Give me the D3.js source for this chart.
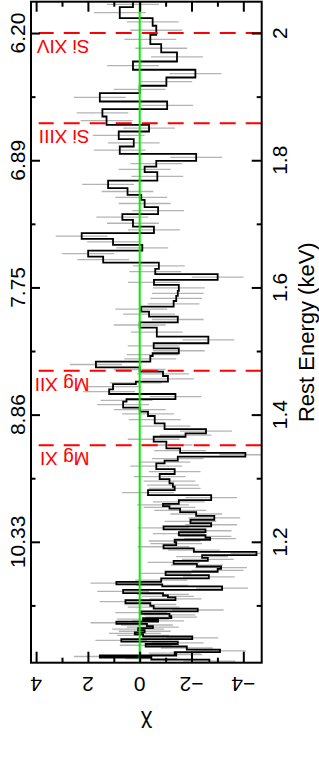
<!DOCTYPE html>
<html><head><meta charset="utf-8">
<script src="https://cdn.jsdelivr.net/npm/d3@7"></script>
<style>html,body{margin:0;padding:0;background:#fff;} svg{display:block;}</style>
</head><body><svg id="c" width="319" height="763"></svg>
<script>
// Bin edges (keV, high to low) and residuals (chi) per bin
const binEdges = [2.0493, 2.0409, 2.0236, 2.0115, 1.9973, 1.9827, 1.9695, 1.9553, 1.9423, 1.9301, 1.9171, 1.9056, 1.8924, 1.8804, 1.8688, 1.8557, 1.8452, 1.8332, 1.8216, 1.8101, 1.7991, 1.7901, 1.7813, 1.7681, 1.7561, 1.7456, 1.7377, 1.7262, 1.7152, 1.7062, 1.6957, 1.6853, 1.6763, 1.6668, 1.6579, 1.6485, 1.6390, 1.6291, 1.6208, 1.6118, 1.6039, 1.5945, 1.5866, 1.5787, 1.5698, 1.5619, 1.5540, 1.5452, 1.5367, 1.5226, 1.5122, 1.5043, 1.4965, 1.4922, 1.4832, 1.4744, 1.4675, 1.4607, 1.4518, 1.4481, 1.4398, 1.4324, 1.4245, 1.4203, 1.4109, 1.4046, 1.3978, 1.3863, 1.3773, 1.3706, 1.3652, 1.3574, 1.3470, 1.3400, 1.3338, 1.3275, 1.3234, 1.3144, 1.3066, 1.2987, 1.2919, 1.2866, 1.2814, 1.2735, 1.2656,
  1.2598, 1.2562, 1.2522, 1.2467, 1.2407, 1.2347, 1.2294, 1.2242, 1.2195, 1.2153, 1.2103, 1.2066, 1.2032, 1.1993, 1.1948, 1.1896, 1.1843, 1.1791, 1.1746, 1.1699, 1.1652, 1.1612, 1.1573, 1.1529, 1.1476, 1.1424, 1.1371, 1.1332, 1.1298, 1.1245, 1.1193, 1.1156, 1.1125, 1.1083, 1.1035, 1.0994, 1.0949, 1.0907, 1.0868, 1.0831, 1.0800, 1.0771, 1.0744, 1.0710, 1.0674, 1.0642, 1.0611, 1.0576, 1.0545, 1.0511, 1.0469, 1.0430, 1.0393, 1.0354, 1.0306, 1.0264, 1.0238, 1.0212, 1.0181, 1.0146, 1.0099];
const chiValues = [0.26, 0.77, -0.50, -0.64, -0.41, -0.83, -1.44, 0.26, -2.15, -1.03,
  0.00, 1.54, -1.06, 1.44, 1.28, -0.36, 0.81, 0.23, 0.77, -2.18,
  -0.64, -0.19, -0.68, 1.22, 0.47, -0.06, -0.19, -0.71, 0.67, 0.26,
  -0.55, 2.24, 1.03, -0.10, 1.99, 1.41, -0.74, -0.60, -3.01, -0.55,
  -1.51, -1.47, -1.41, -1.31, -0.06, -0.36, -1.47, 0.00, -0.66, -2.65,
  -0.54, -1.51, -0.50, -0.41, 1.69, 0.00, -0.90, -1.09, 0.15, 1.03,
  1.18, -1.38, 0.51, 0.64, 0.00, -0.32, -0.58, -0.96, -2.56, -1.77,
  -0.54, -1.03, -1.56, -4.08, -1.47, -0.96, -0.64, -1.35, -0.77, -1.15,
  -1.28, -1.35, -0.32, -2.76,
  -1.51, -0.90, -1.15, -1.56, -2.18, -2.88, -1.96, -2.76, -0.92, -2.54,
  -1.51, -2.54, -2.72, -1.35, -1.41, -0.92, -2.09, -4.51, -2.41, -2.63,
  -1.31, -2.21, -3.14, -3.01, -1.00, -2.67, -0.83, 0.90, -0.87, -3.18,
  0.64, -0.90, -1.09, -1.38, 0.55, -0.41, -0.54, -2.24, -0.06, -1.15,
  -1.22, -0.13, -0.71, 0.90, -0.28, -0.51, 0.06, -0.19, 0.19, -0.13,
  -2.03, 0.71, -1.47, -0.23, -1.82, -3.10, -1.35, -1.41, 1.54, -0.45,
  -2.69];
const chiError = 1.0;

const energyTicksMajor = [2.0, 1.8, 1.6, 1.4, 1.2];
const energyTicksMinor = [1.9, 1.7, 1.5, 1.3, 1.1];
const energyTickLabels = ["2", "1.8", "1.6", "1.4", "1.2"];
const wavelengthTickLabels = ["6.20", "6.89", "7.75", "8.86", "10.33"];
const chiTicksMajor = [4, 2, 0, -2, -4];
const chiTicksMinor = [3, 1, -1, -3];
const chiTickLabels = ["4", "2", "0", "\u22122", "\u22124"];

const lineNames = ["Si XIV", "Si XIII", "Mg XII", "Mg XI"];
const lineEnergies = [2.000, 1.858, 1.469, 1.352];
const lineChiSpan = [-4.71, 3.9];

const energyDomain = [1.0099, 2.0493];
const chiDomain = [4.197, -4.71];

const font = "'Liberation Sans', Arial, Helvetica, sans-serif";
const L = 31, R = 261.7, T = 1.7, B = 662.7;

const svg = d3.select("#c");
const y = d3.scaleLinear().domain(energyDomain).range([B, T]);
const x = d3.scaleLinear().domain(chiDomain).range([L, R]);

svg.append("defs").append("clipPath").attr("id", "clip")
  .append("rect").attr("x", L).attr("y", T).attr("width", R - L).attr("height", B - T);
const plot = svg.append("g").attr("clip-path", "url(#clip)");

const bins = chiValues.map((c, i) => ({hi: binEdges[i], lo: binEdges[i + 1], chi: c}));

// error bars
plot.append("g").selectAll("line").data(bins).join("line")
  .attr("x1", d => x(d.chi - chiError)).attr("x2", d => x(d.chi + chiError))
  .attr("y1", d => y((d.hi + d.lo) / 2)).attr("y2", d => y((d.hi + d.lo) / 2))
  .attr("stroke", "#b4b4b4").attr("stroke-width", 1.3);

// step line
const pts = [];
bins.forEach(d => { pts.push([d.chi, d.hi]); pts.push([d.chi, d.lo]); });
plot.append("path").datum(pts)
  .attr("d", d3.line().x(p => x(p[0])).y(p => y(p[1])))
  .attr("fill", "none").attr("stroke", "#000").attr("stroke-width", 1.8)
  .attr("stroke-linejoin", "miter");

// zero line
plot.append("line").attr("x1", x(0)).attr("x2", x(0)).attr("y1", T).attr("y2", B)
  .attr("stroke", "#00ee00").attr("stroke-width", 2);

// line markers
plot.append("g").selectAll("line").data(lineEnergies).join("line")
  .attr("x1", x(lineChiSpan[0])).attr("x2", x(lineChiSpan[1]))
  .attr("y1", d => y(d)).attr("y2", d => y(d))
  .attr("stroke", "#ff0000").attr("stroke-width", 2).attr("stroke-dasharray", "16,10");

svg.append("g").selectAll("text").data(lineNames).join("text")
  .attr("transform", (d, i) => `translate(89.5,${y(lineEnergies[i]) + 7}) rotate(180)`)
  .attr("text-anchor", "start").attr("font-family", font).attr("font-size", 19)
  .attr("fill", "#ff0000").text(d => d);

// frame
svg.append("rect").attr("x", L).attr("y", T).attr("width", R - L).attr("height", B - T)
  .attr("fill", "none").attr("stroke", "#000").attr("stroke-width", 2);

function styleAxis(g) {
  g.select(".domain").remove();
  g.selectAll(".tick line").attr("stroke", "#000").attr("stroke-width", 2);
  g.selectAll(".tick text").remove();
}
// left (wavelength) ticks
svg.append("g").attr("transform", `translate(${L},0)`)
  .call(d3.axisRight(y).tickValues(energyTicksMajor).tickSize(9)).call(styleAxis);
svg.append("g").attr("transform", `translate(${L},0)`)
  .call(d3.axisRight(y).tickValues(energyTicksMinor).tickSize(4.5)).call(styleAxis);
// right (energy) ticks
svg.append("g").attr("transform", `translate(${R},0)`)
  .call(d3.axisLeft(y).tickValues(energyTicksMajor).tickSize(10)).call(styleAxis);
svg.append("g").attr("transform", `translate(${R},0)`)
  .call(d3.axisLeft(y).tickValues(energyTicksMinor).tickSize(5)).call(styleAxis);
// bottom chi ticks
svg.append("g").attr("transform", `translate(0,${B})`)
  .call(d3.axisTop(x).tickValues(chiTicksMajor).tickSize(11)).call(styleAxis);
svg.append("g").attr("transform", `translate(0,${B})`)
  .call(d3.axisTop(x).tickValues(chiTicksMinor).tickSize(5)).call(styleAxis);
// top chi ticks
svg.append("g").attr("transform", `translate(0,${T})`)
  .call(d3.axisBottom(x).tickValues(chiTicksMajor).tickSize(10)).call(styleAxis);
svg.append("g").attr("transform", `translate(0,${T})`)
  .call(d3.axisBottom(x).tickValues(chiTicksMinor).tickSize(5)).call(styleAxis);

// tick labels
svg.append("g").selectAll("text").data(energyTicksMajor).join("text")
  .attr("transform", (d) => `translate(25,${y(d)}) rotate(-90)`)
  .attr("text-anchor", "middle").attr("font-family", font).attr("font-size", 21)
  .text((d, i) => wavelengthTickLabels[i]);
svg.append("g").selectAll("text").data(energyTicksMajor).join("text")
  .attr("transform", (d) => `translate(286.7,${y(d)}) rotate(-90)`)
  .attr("text-anchor", "middle").attr("font-family", font).attr("font-size", 21)
  .text((d, i) => energyTickLabels[i]);
svg.append("g").selectAll("text").data(chiTicksMajor).join("text")
  .attr("transform", (d) => `translate(${x(d)},676.7) rotate(180)`)
  .attr("text-anchor", "middle").attr("font-family", font).attr("font-size", 21)
  .text((d, i) => chiTickLabels[i]);

// axis titles
svg.append("text").attr("transform", `translate(313.5,${(T + B) / 2}) rotate(-90)`)
  .attr("text-anchor", "middle").attr("font-family", font).attr("font-size", 22)
  .text("Rest Energy (keV)");
svg.append("text").attr("transform", `translate(${(L + R) / 2},716.3) rotate(180)`)
  .attr("text-anchor", "middle").attr("font-family", font).attr("font-size", 22)
  .text("\u03C7");
</script></body></html>
